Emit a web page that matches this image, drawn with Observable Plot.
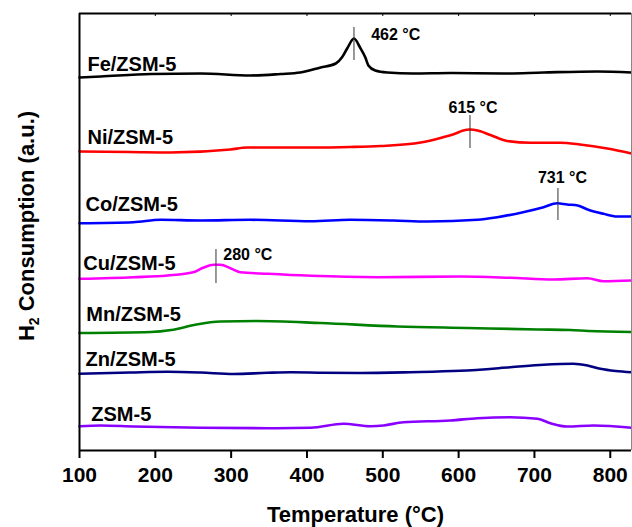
<!DOCTYPE html>
<html><head><meta charset="utf-8">
<script src="https://cdn.jsdelivr.net/npm/d3@7"></script>
<script src="https://cdn.jsdelivr.net/npm/@observablehq/plot@0.6"></script>
<style>body{margin:0;background:#fff;} #chart{width:632px;height:527px;}</style>
</head><body><div id="chart"></div>
<script>
// ---- data (temperature in °C, signal in arbitrary units incl. vertical offset) ----
const samples = ["Fe/ZSM-5","Ni/ZSM-5","Co/ZSM-5","Cu/ZSM-5","Mn/ZSM-5","Zn/ZSM-5","ZSM-5"];
const sampleColors = ["#000000","#ff0000","#0000ff","#ff00ff","#008000","#000080","#8a00ff"];

const tempFe = [100,128,194,260,325,365,391,418,438,446,453,462,470,477,481,490,506,540,589,659,712,783,828];
const sigFe  = [373,374,376.5,377,375,376.5,378,383,387,393,402,412,403,393,385,380,378,377,377.5,377,378,379,378];

const tempNi = [100,167,220,299,321,405,457,497,550,576,596,606,615,625,642,664,695,734,760,796,828];
const sigNi  = [299,298.5,298,301,303,303,303.5,304.5,308,312.5,317,320,321,320,315.5,309.5,307.7,307.7,306,302,297];

const tempCo = [100,171,207,260,325,405,457,514,559,625,651,685,712,730,743,757,770,791,809,828];
const sigCo  = [227.3,228.3,230.7,230,230.7,229.3,230.7,230,229,230.7,233.3,238.3,243.3,247.3,246,245,241,236.7,234,234];

const tempCu = [100,171,216,250,263,277,286,299,312,348,405,493,602,668,725,770,791,828];
const sigCu  = [171.7,173.3,175,178.3,182.7,185.7,185.7,182.3,178.3,176.7,174.7,173.3,174,172.7,171,172.3,169.3,170];

const tempMn = [100,194,221,254,286,333,418,519,611,705,747,771,828];
const sigMn  = [117.5,118.5,120.5,126,129,129.5,127.5,124,122.5,121,120.5,119.5,118.5];

const tempZn = [100,167,216,260,303,348,379,418,470,536,602,668,712,751,770,787,807,828];
const sigZn  = [76.7,78,78.8,78,76.5,77.7,78.2,77.8,77.5,78.3,79.7,83.2,85.8,86.8,85,81.7,79.5,78.3];

const tempZSM = [100,128,171,260,348,405,448,484,501,527,589,625,668,704,721,743,778,828];
const sigZSM  = [24.3,25,24,22.7,22.3,22.7,26.7,24.3,25,28.3,30,32.3,33.3,31.7,27.3,24,25,22.7];

// curve name labels (anchor temperature, signal of text baseline)
const labelTemp = [110.5,110.5,108,105,109,108,115.5];
const labelSig  = [380,307,239.5,181,129.5,84.5,29.5];

// peak annotations
const peakTemp  = [462,615,731,280];
const peakText  = ["462 °C","615 °C","731 °C","280 °C"];
const peakLow   = [390,302,230,167];
const peakHigh  = [423,335,262,201];
const peakLabelTemp = [517,619,737,322];
const peakLabelSig  = [411,337.5,268,191];

const xTicks = [100,200,300,400,500,600,700,800];
const xDomain = [100,828];
const yDomain = [0,437];

// ---- build tables ----
const temps = [tempFe,tempNi,tempCo,tempCu,tempMn,tempZn,tempZSM];
const sigs  = [sigFe,sigNi,sigCo,sigCu,sigMn,sigZn,sigZSM];
const rows = [];
samples.forEach((s,i) => temps[i].forEach((t,j) => rows.push({sample:s, T:t, S:sigs[i][j]})));
const labels = samples.map((s,i) => ({sample:s, T:labelTemp[i], S:labelSig[i]}));
const peaks = peakTemp.map((t,i) => ({T:t, lo:peakLow[i], hi:peakHigh[i], text:peakText[i], lt:peakLabelTemp[i], ls:peakLabelSig[i]}));

const font = "'Liberation Sans', Arial, Helvetica, sans-serif";

const chart = Plot.plot({
  width: 632, height: 527,
  marginLeft: 79, marginRight: 1, marginTop: 13, marginBottom: 77,
  style: {fontFamily: font, fontWeight: "bold", fontSize: "21px", background: "#fff", overflow: "visible"},
  x: {domain: xDomain},
  y: {domain: yDomain, axis: null},
  color: {domain: samples, range: sampleColors},
  marks: [
    Plot.line(rows, {x: "T", y: "S", z: "sample", stroke: "sample", strokeWidth: 2.6, curve: "monotone-x"}),
    Plot.ruleX(peaks, {x: "T", y1: "lo", y2: "hi", stroke: "#333", strokeWidth: 1}),
    Plot.text(peaks, {x: "lt", y: "ls", text: "text", lineAnchor: "bottom", textAnchor: "middle", fontSize: 16, fontWeight: "bold", fill: "#000"}),
    Plot.text(labels, {x: "T", y: "S", text: "sample", lineAnchor: "bottom", textAnchor: "start", fontSize: 20, fontWeight: "bold", fill: "#000"}),
    // frame
    Plot.ruleX([xDomain[0]], {stroke: "#000", strokeWidth: 2}),
    Plot.ruleX([xDomain[1]], {stroke: "#888", strokeWidth: 1}),
    Plot.ruleY([yDomain[0]], {stroke: "#000", strokeWidth: 2.2}),
    Plot.ruleY([yDomain[1]], {stroke: "#000", strokeWidth: 2}),
    Plot.ruleX(xTicks, {y1: yDomain[1], y2: yDomain[1] - 3, stroke: "#000", strokeWidth: 1}),
    Plot.axisX({ticks: xTicks, tickSize: 8, tickPadding: 9, strokeWidth: 2, label: null, fontSize: 21, fontWeight: "bold"}),
    Plot.text(["Temperature (°C)"], {frameAnchor: "bottom", dy: 71, lineAnchor: "bottom", textAnchor: "middle", fontSize: 22, fontWeight: "bold", fill: "#000"}),
    Plot.text(["H2 Consumption (a.u.)"], {frameAnchor: "left", dx: -53, dy: -6, rotate: -90, lineAnchor: "middle", textAnchor: "middle", fontSize: 22, fontWeight: "bold", fill: "#000"})
  ]
});
document.getElementById("chart").appendChild(chart);

// subscript "2" in H2
d3.select(chart).selectAll("text").each(function() {
  if (this.textContent === "H2 Consumption (a.u.)") {
    const t = d3.select(this);
    t.text(null);
    t.append("tspan").text("H");
    t.append("tspan").attr("dy", "5").attr("font-size", "14").text("2");
    t.append("tspan").attr("dy", "-5").text(" Consumption (a.u.)");
  }
});
</script></body></html>
